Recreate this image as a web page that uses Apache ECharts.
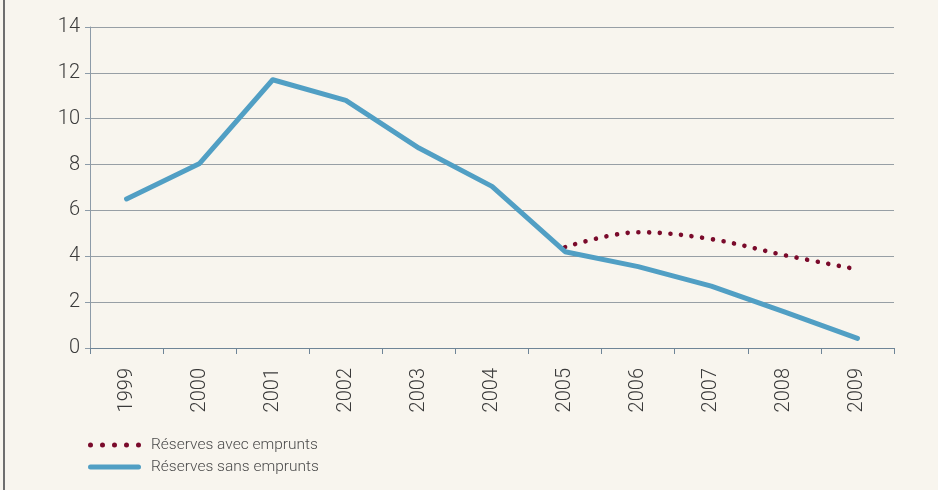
<!DOCTYPE html>
<html>
<head>
<meta charset="utf-8">
<script src="https://cdn.jsdelivr.net/npm/echarts@6/dist/echarts.min.js"></script>
<style>
  html, body { margin: 0; padding: 0; background: #f8f5ee; }
  #wrap { position: relative; width: 938px; height: 490px; }
  #edge { position: absolute; left: 3px; top: 0; width: 2px; height: 490px; background: #6e6e6e; }
  #chart { position: absolute; left: 0; top: 0; width: 938px; height: 490px; }
</style>
</head>
<body>
<div id="wrap"><div id="chart"></div><div id="edge"></div></div>
<script>
// Years on the horizontal axis
const years = ['1999', '2000', '2001', '2002', '2003', '2004', '2005', '2006', '2007', '2008', '2009'];
// Reserves including borrowing (only from 2005)
const avecEmprunts = [null, null, null, null, null, null, 4.4, 5.05, 4.75, 4.05, 3.43];
// Reserves without borrowing
const sansEmprunts = [6.5, 8.05, 11.7, 10.8, 8.72, 7.05, 4.2, 3.55, 2.7, 1.58, 0.42];
// Value axis range
const yMin = 0, yMax = 14, yStep = 2;

const nameAvec = 'Réserves avec emprunts';
const nameSans = 'Réserves sans emprunts';

const dotsIcon = 'path://M0,2.5a2.5,2.5 0 1,0 5,0a2.5,2.5 0 1,0 -5,0Z' +
  'M12,2.5a2.5,2.5 0 1,0 5,0a2.5,2.5 0 1,0 -5,0Z' +
  'M24,2.5a2.5,2.5 0 1,0 5,0a2.5,2.5 0 1,0 -5,0Z' +
  'M36,2.5a2.5,2.5 0 1,0 5,0a2.5,2.5 0 1,0 -5,0Z' +
  'M48,2.5a2.5,2.5 0 1,0 5,0a2.5,2.5 0 1,0 -5,0Z';
const barIcon = 'path://M2.5,0H50.5A2.5,2.5 0 0 1 50.5,5H2.5A2.5,2.5 0 0 1 2.5,0Z';

const labelFont = {
  fontFamily: 'Roboto',
  fontWeight: 300,
  fontSize: 20,
  color: '#3a3a3a'
};

const chart = echarts.init(document.getElementById('chart'));
chart.setOption({
  backgroundColor: '#f8f5ee',
  animation: false,
  grid: { left: 90, right: 44, top: 27, bottom: 142 },
  legend: {
    orient: 'vertical',
    left: 88,
    top: 436,
    padding: 0,
    itemWidth: 53,
    itemHeight: 5,
    itemGap: 4,
    selectedMode: false,
    textStyle: {
      fontFamily: 'Roboto',
      fontWeight: 300,
      fontSize: 15.5,
      color: '#4a4a4a',
      lineHeight: 18,
      padding: [0, 0, 0, 5]
    },
    data: [
      { name: nameAvec, icon: dotsIcon, itemStyle: { color: '#7a0a2b' } },
      { name: nameSans, icon: barIcon, itemStyle: { color: '#519fc4' } }
    ]
  },
  xAxis: {
    type: 'category',
    data: years,
    boundaryGap: true,
    axisLine: { lineStyle: { color: '#6f8597', width: 1 } },
    axisTick: { show: true, length: 6, lineStyle: { color: '#6f8597' } },
    axisLabel: Object.assign({ rotate: 90, margin: 20 }, labelFont),
    splitLine: { show: false }
  },
  yAxis: {
    type: 'value',
    min: yMin,
    max: yMax,
    interval: yStep,
    axisLine: { show: true, lineStyle: { color: '#8d9ba8', width: 1 } },
    axisTick: { show: true, length: 5, lineStyle: { color: '#8d9ba8' } },
    axisLabel: Object.assign({ margin: 10 }, labelFont),
    splitLine: { show: true, lineStyle: { color: '#979fa5', width: 1 } }
  },
  series: [
    {
      name: nameAvec,
      type: 'line',
      data: avecEmprunts,
      smooth: 0.35,
      showSymbol: false,
      symbol: 'none',
      connectNulls: false,
      lineStyle: { color: '#7a0a2b', width: 4.6, type: [0.01, 10.7], cap: 'round' },
      itemStyle: { color: '#7a0a2b' }
    },
    {
      name: nameSans,
      type: 'line',
      data: sansEmprunts,
      showSymbol: false,
      symbol: 'none',
      lineStyle: { color: '#519fc4', width: 5, cap: 'round', join: 'round' },
      itemStyle: { color: '#519fc4' }
    }
  ]
});
</script>
</body>
</html>
